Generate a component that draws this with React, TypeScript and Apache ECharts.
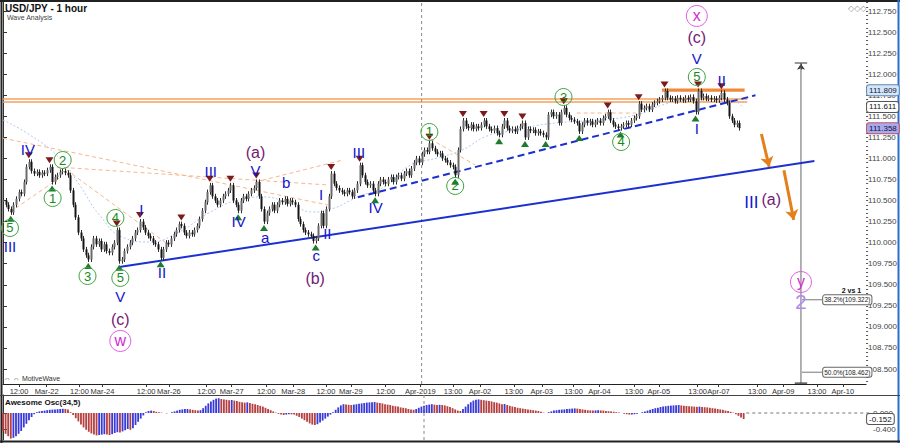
import React, { useEffect, useRef } from 'react';
import * as echarts from 'echarts';

// ---------- DATA ----------
const closes = [
  110.50,110.45,110.40,110.36,110.45,110.52,110.60,110.58,110.72,110.90,
  110.96,110.85,110.82,110.84,110.80,110.83,110.82,110.86,110.90,110.72,
  110.78,110.80,110.84,110.85,110.83,110.80,110.62,110.45,110.30,110.12,
  110.05,109.92,109.85,109.80,109.95,110.05,109.98,110.02,109.92,109.98,
  109.90,109.88,109.95,110.00,110.15,109.78,109.80,109.90,109.95,110.00,
  110.05,110.12,110.15,110.25,110.18,110.12,110.08,110.05,110.00,109.98,
  109.92,109.82,109.92,110.00,109.98,110.05,110.10,110.15,110.22,110.20,
  110.12,110.08,110.12,110.10,110.15,110.20,110.28,110.38,110.48,110.60,
  110.68,110.55,110.50,110.45,110.50,110.55,110.58,110.62,110.68,110.50,
  110.45,110.38,110.50,110.55,110.52,110.58,110.62,110.65,110.72,110.55,
  110.40,110.25,110.35,110.40,110.45,110.38,110.45,110.50,110.48,110.52,
  110.46,110.50,110.48,110.45,110.28,110.22,110.15,110.12,110.10,110.08,
  110.02,110.05,110.20,110.35,110.20,110.40,110.55,110.82,110.70,110.65,
  110.62,110.60,110.58,110.62,110.60,110.55,110.62,110.70,110.92,110.80,
  110.72,110.68,110.70,110.62,110.58,110.70,110.75,110.72,110.70,110.75,
  110.78,110.72,110.78,110.80,110.76,110.82,110.85,110.80,110.88,110.95,
  111.00,110.95,111.05,111.10,111.08,111.18,111.12,111.08,111.05,111.06,
  111.00,110.98,110.95,110.92,110.90,110.80,111.10,111.35,111.45,111.38,
  111.36,111.40,111.35,111.38,111.36,111.40,111.45,111.38,111.35,111.33,
  111.36,111.30,111.28,111.38,111.45,111.36,111.33,111.35,111.32,111.36,
  111.38,111.42,111.25,111.35,111.33,111.34,111.30,111.32,111.30,111.28,
  111.25,111.52,111.55,111.50,111.52,111.42,111.55,111.60,111.52,111.48,
  111.46,111.44,111.42,111.32,111.40,111.45,111.42,111.44,111.40,111.43,
  111.45,111.42,111.48,111.50,111.55,111.45,111.40,111.38,111.36,111.38,
  111.40,111.42,111.40,111.45,111.48,111.50,111.65,111.58,111.60,111.62,
  111.58,111.64,111.66,111.68,111.70,111.72,111.80,111.72,111.70,111.71,
  111.68,111.72,111.70,111.69,111.72,111.70,111.73,111.68,111.55,111.80,
  111.72,111.74,111.71,111.72,111.70,111.71,111.69,111.72,111.78,111.70,
  111.66,111.50,111.45,111.40,111.42,111.36
];

const aoValues = [
  -0.45,-0.52,-0.58,-0.64,-0.62,-0.58,-0.52,-0.45,-0.36,-0.27,
  -0.18,-0.10,-0.03,0.02,0.04,0.05,0.06,0.07,0.08,0.085,
  0.09,0.095,0.10,0.105,0.10,0.09,0.02,-0.05,-0.13,-0.21,
  -0.29,-0.36,-0.42,-0.47,-0.51,-0.54,-0.56,-0.55,-0.54,-0.53,
  -0.54,-0.55,-0.53,-0.50,-0.48,-0.49,-0.46,-0.43,-0.40,-0.42,
  -0.38,-0.30,-0.22,-0.14,-0.06,0.02,0.05,0.06,0.05,0.03,
  0.02,0.01,0.00,-0.01,0.00,0.02,0.04,0.06,0.08,0.09,
  0.10,0.10,0.09,0.08,0.07,0.06,0.07,0.12,0.18,0.24,
  0.29,0.33,0.36,0.37,0.35,0.34,0.33,0.32,0.325,0.31,
  0.30,0.28,0.27,0.26,0.265,0.25,0.23,0.22,0.20,0.18,
  0.16,0.13,0.10,0.07,0.04,0.01,-0.02,-0.04,-0.05,-0.04,
  -0.03,-0.035,-0.04,-0.07,-0.10,-0.14,-0.18,-0.22,-0.26,-0.29,
  -0.30,-0.28,-0.24,-0.19,-0.14,-0.09,-0.04,0.02,0.08,0.14,
  0.19,0.22,0.21,0.205,0.20,0.21,0.22,0.23,0.24,0.25,
  0.26,0.265,0.27,0.275,0.26,0.25,0.24,0.22,0.21,0.20,
  0.18,0.17,0.16,0.14,0.13,0.12,0.10,0.09,0.08,0.10,
  0.13,0.16,0.18,0.20,0.21,0.22,0.21,0.20,0.205,0.20,
  0.19,0.17,0.15,0.12,0.09,0.06,0.05,0.10,0.16,0.22,
  0.27,0.31,0.33,0.34,0.33,0.32,0.31,0.30,0.29,0.27,
  0.26,0.24,0.22,0.225,0.20,0.18,0.16,0.15,0.13,0.12,
  0.11,0.10,0.09,0.08,0.07,0.06,0.05,0.03,0.01,0.00,
  0.02,0.04,0.06,0.07,0.08,0.085,0.09,0.10,0.105,0.11,
  0.115,0.11,0.10,0.09,0.08,0.07,0.065,0.06,0.065,0.07,
  0.065,0.06,0.05,0.045,0.04,0.03,0.02,0.01,0.00,-0.02,
  -0.03,-0.04,-0.035,-0.03,-0.02,0.00,0.02,0.04,0.06,0.08,
  0.10,0.12,0.13,0.15,0.16,0.17,0.18,0.185,0.19,0.195,
  0.20,0.19,0.18,0.175,0.17,0.165,0.16,0.155,0.16,0.15,
  0.145,0.14,0.13,0.12,0.11,0.10,0.09,0.08,0.06,0.05,
  0.03,0.01,-0.03,-0.07,-0.11,-0.15
];

const xTickPos = [6.2,16.9,29.6,38.5,55.4,64.2,78.8,88.5,101.9,112.3,125,134.6,148.1,161.5,174.2,184.6,197.7,208.5,220.8,230.8,244.2,253.8,268.8,276.9,291.9,301.9,315,325];
const xTickLabels = ['12:00','Mar-22','12:00','Mar-24','12:00','Mar-26','12:00','Mar-27','12:00','Mar-28','12:00','Mar-29','12:00','Apr-2019','13:00','Apr-02','13:00','Apr-03','13:00','Apr-04','13:00','Apr-05','13:00','Apr-07','13:00','Apr-09','13:00','Apr-10'];
const priceTicks = [108.5,108.75,109,109.25,109.5,109.75,110,110.25,110.5,110.75,111,111.25,111.5,111.75,112,112.25,112.5,112.75];
const aoTicks = [0, -0.4];

const downIdx = [10,18,44,53,69,80,88,98,127,138,165,178,186,194,201,217,234,246,256,269,278];
const upIdx = [3,19,33,45,61,91,101,121,144,175,192,202,210,223,239,268];

// [text, barIndex, price, kind]
const waveLabels: [string, number, number, string][] = [
  ['5', 2.7, 110.174, 'g'], ['III', 2.7, 109.949, 'b'], ['IV', 9.6, 111.100, 'b'],
  ['2', 23.1, 110.981, 'g'], ['1', 19.2, 110.530, 'g'], ['3', 32.7, 109.604, 'g'],
  ['4', 43.5, 110.293, 'g'], ['5', 45.4, 109.581, 'g'], ['V', 45.4, 109.355, 'b'],
  ['(c)', 45.4, 109.082, 'p'], ['w', 45.4, 108.833, 'm'], ['I', 53.5, 110.388, 'b'],
  ['II', 61.5, 109.640, 'b'], ['III', 80.4, 110.839, 'b'], ['IV', 91.2, 110.257, 'b'],
  ['(a)', 97.7, 111.076, 'p'], ['V', 97.7, 110.851, 'b'], ['a', 101.5, 110.056, 'b'],
  ['b', 109.6, 110.720, 'b'], ['c', 121.2, 109.842, 'b'], ['(b)', 120.8, 109.569, 'p'],
  ['I', 123.1, 110.566, 'b'], ['II', 125.5, 110.103, 'b'], ['III', 137.7, 111.076, 'b'],
  ['IV', 144.2, 110.423, 'b'], ['1', 165, 111.314, 'g'], ['2', 175, 110.673, 'g'],
  ['3', 216.9, 111.729, 'g'], ['4', 239.2, 111.195, 'g'], ['5', 268.5, 111.967, 'g'],
  ['V', 268.5, 112.192, 'b'], ['(c)', 268.5, 112.430, 'p'], ['x', 268.5, 112.691, 'm'],
  ['II', 278.1, 111.931, 'b'], ['I', 268.5, 111.361, 'b'], ['III', 289.6, 110.471, 'B'],
  ['(a)', 297.3, 110.507, 'p'], ['y', 308.8, 109.533, 'm'], ['2', 308.8, 109.296, 'l']
];

const maLine = [
  [0,111.456],[10.4,111.278],[21.9,111.005],[29.6,110.685],[37.3,110.329],[46.9,110.056],
  [56.5,110.008],[68.1,110.127],[79.6,110.352],[91.2,110.507],[100.8,110.542],[110.4,110.471],
  [120,110.364],[125.8,110.388],[137.3,110.542],[148.8,110.685],[157.7,110.922],[168.1,111.005],
  [177.7,111.100],[187.3,111.266],[198.8,111.338],[210.4,111.409],[229.6,111.456],[245,111.516],
  [256.5,111.646],[268.1,111.694],[281.5,111.694],[286.5,111.599]
];
const peachLines = [
  [[0,111.24],[125.8,110.447]],
  [[24.6,110.863],[64.2,109.972]],
  [[20.8,110.898],[125.8,110.685]],
  [[2.7,110.364],[21.9,110.768]],
  [[97.7,110.720],[131.5,110.981]],
  [[165.4,111.231],[182.7,110.922]],
  [[222,111.539],[245,111.539]]
];
const resistancePrices = [111.706, 111.670];
const resistanceRange = [0, 288];
const topBand = [[255, 111.81], [287, 111.81]];
const supportLine = [[45, 109.71], [314, 110.97]];
const dashedSupport = [[137.3, 110.54], [291.2, 111.75]];
const arrows = [
  [[293.5, 111.29], [296.5, 110.90]],
  [[302.2, 110.86], [306, 110.27]]
];
const dividerBar = 162;
const measureBar = 308.8;
const measureTop = 112.133;
const fibLevels: [string, number][] = [['38.2%', 109.322], ['50.0%', 108.462]];
const fibRange = [309.2, 317];
const axisMarks: [number, string, string, string][] = [
  [111.809, '#d4e6f7', '#5f87b3', '#102040'],
  [111.611, '#ffffff', '#555555', '#111111'],
  [111.358, '#a9a9ee', '#c0506a', '#111133']
];
const aoLast = -0.152;

const Y_MIN = 108.322, Y_MAX = 112.857, X_MAX = 334;
const AO_MIN = -0.675, AO_MAX = 0.45;
const WICK = 0.03;
const FONT = 'Liberation Sans, Arial, sans-serif';

const kindStyle: Record<string, any> = {
  g: { color: '#178a17', size: 13, circle: 17, border: '#3ea33e' },
  b: { color: '#1414cc', size: 15 },
  B: { color: '#1414cc', size: 17 },
  p: { color: '#741a74', size: 16 },
  m: { color: '#d22cd2', size: 16, circle: 21, border: '#e060e0' },
  l: { color: '#b08af0', size: 21 }
};

export default function App() {
  const ref = useRef<HTMLDivElement>(null);
  useEffect(() => {
    const chart = echarts.init(ref.current!, null, { renderer: 'svg' });
    const ohlc = closes.map((c, i) => {
      const o = i === 0 ? c : closes[i - 1];
      return [i, o, c, Math.min(o, c) - WICK, Math.max(o, c) + WICK];
    });
    const minorTicks: number[] = [];
    for (let v = 108.35; v < 112.86; v += 0.05) minorTicks.push(+v.toFixed(2));

    const seg = (data: number[][], color: string, width: number, type: any = 'solid', xi = 0, yi = 0, z = 2) => ({
      type: 'line', xAxisIndex: xi, yAxisIndex: yi, data, symbol: 'none', silent: true, z,
      lineStyle: { color, width, type }, animation: false
    });

    const series: any[] = [];
    resistancePrices.forEach(p => series.push(seg([[resistanceRange[0], p], [resistanceRange[1], p]], '#f2a260', 1.6)));
    series.push(seg(topBand, '#ef8a3c', 3.2));
    series.push({ ...seg(maLine, '#b4c8f0', 1, [2, 2]), smooth: true });
    peachLines.forEach(l => series.push(seg(l, '#f6b690', 1, [4, 3])));
    series.push(seg([[dividerBar, Y_MIN], [dividerBar, Y_MAX]], '#8a8a8a', 1, [3, 3]));
    series.push(seg([[dividerBar, AO_MIN], [dividerBar, AO_MAX]], '#8a8a8a', 1, [3, 3], 1, 1));
    series.push(seg(supportLine, '#1c2fd0', 2, 'solid', 0, 0, 3));
    series.push(seg(dashedSupport, '#1c2fd0', 2, [7, 4], 0, 0, 3));
    series.push(seg([[measureBar, Y_MIN + 0.01], [measureBar, measureTop]], '#666', 1));
    series.push(seg([[measureBar - 2.4, measureTop], [measureBar + 2.4, measureTop]], '#333', 1.2));
    series.push(seg([[measureBar - 2.4, Y_MIN + 0.01], [measureBar + 2.4, Y_MIN + 0.01]], '#333', 1.2));
    series.push({
      type: 'lines', coordinateSystem: 'cartesian2d', xAxisIndex: 0, yAxisIndex: 0, silent: true,
      symbol: ['none', 'arrow'], symbolSize: 6, lineStyle: { color: '#333', width: 1, opacity: 1 },
      data: [{ coords: [[measureBar, measureTop - 0.08], [measureBar, measureTop - 0.01]] }]
    });
    fibLevels.forEach(f => series.push(seg([[fibRange[0], f[1]], [fibRange[1], f[1]]], '#777', 1)));
    series.push({
      type: 'lines', coordinateSystem: 'cartesian2d', xAxisIndex: 0, yAxisIndex: 0, silent: true, z: 4,
      symbol: ['none', 'arrow'], symbolSize: 10, lineStyle: { color: '#e3801c', width: 3, opacity: 1 },
      data: arrows.map(a => ({ coords: a }))
    });
    series.push({
      type: 'custom', xAxisIndex: 0, yAxisIndex: 0, data: ohlc, encode: { x: 0, y: [1, 2, 3, 4] }, z: 5, silent: true,
      renderItem: (params: any, api: any) => {
        const x = api.value(0);
        const pO = api.coord([x, api.value(1)]);
        const pC = api.coord([x, api.value(2)]);
        const pL = api.coord([x, api.value(3)]);
        const pH = api.coord([x, api.value(4)]);
        const cx = Math.round(pO[0]) + 0.5;
        const top = Math.min(pO[1], pC[1]);
        const h = Math.max(1, Math.abs(pO[1] - pC[1]));
        const up = api.value(2) >= api.value(1);
        return {
          type: 'group', children: [
            { type: 'line', shape: { x1: cx, y1: pH[1], x2: cx, y2: pL[1] }, style: { stroke: '#2b2b2b', lineWidth: 1 } },
            { type: 'rect', shape: { x: cx - 1, y: top, width: 2, height: h }, style: { fill: up ? '#6a6a6a' : '#151515' } }
          ]
        };
      }
    });
    series.push({
      type: 'scatter', xAxisIndex: 0, yAxisIndex: 0, silent: true, z: 6,
      symbol: 'triangle', symbolSize: [8, 6], symbolRotate: 180, symbolOffset: [0, -4],
      itemStyle: { color: '#7d1b1b', opacity: 1 },
      data: downIdx.map(i => [i, ohlc[i][4]])
    });
    series.push({
      type: 'scatter', xAxisIndex: 0, yAxisIndex: 0, silent: true, z: 6,
      symbol: 'triangle', symbolSize: [8, 6], symbolOffset: [0, 4],
      itemStyle: { color: '#1e7a2e', opacity: 1 },
      data: upIdx.map(i => [i, ohlc[i][3]])
    });
    series.push({
      type: 'scatter', xAxisIndex: 0, yAxisIndex: 0, silent: true, z: 7,
      itemStyle: { opacity: 1 },
      data: waveLabels.map(([t, i, p, k]) => {
        const s = kindStyle[k];
        return {
          value: [i, p],
          symbol: 'circle',
          symbolSize: s.circle || 1,
          itemStyle: s.circle
            ? { color: 'rgba(255,255,255,0)', borderColor: s.border, borderWidth: 1, opacity: 1 }
            : { color: 'rgba(255,255,255,0)', opacity: 1 },
          label: {
            show: true, position: 'inside', formatter: t, color: s.color, fontSize: s.size, fontFamily: FONT,
            textBorderWidth: 0, opacity: 1
          }
        };
      })
    });
    series.push({
      type: 'bar', xAxisIndex: 1, yAxisIndex: 1, barWidth: 1.8, silent: true,
      data: aoValues.map((v, i) => ({
        value: [i, v],
        itemStyle: { color: i > 0 && v >= aoValues[i - 1] ? '#3a3ad8' : '#b5403f' }
      }))
    });
    series.push(seg([[aoValues.length, 0], [X_MAX, 0]], '#777', 1, [3, 3], 1, 1));

    const option: any = {
      animation: false,
      backgroundColor: '#ffffff',
      grid: [
        { left: 3, right: 29, top: 2, height: 382 },
        { left: 3, right: 29, top: 395, height: 45 }
      ],
      xAxis: [
        {
          type: 'value', gridIndex: 0, min: 0, max: X_MAX,
          axisLine: { show: true, lineStyle: { color: '#222', width: 1 } },
          axisTick: { show: true, customValues: xTickPos, length: 3, lineStyle: { color: '#333' } },
          axisLabel: {
            customValues: xTickPos, fontSize: 7.5, color: '#333', margin: 3, fontFamily: FONT,
            formatter: (v: number) => { const k = xTickPos.findIndex(p => Math.abs(p - v) < 0.01); return k >= 0 ? xTickLabels[k] : ''; }
          },
          splitLine: { show: false }
        },
        {
          type: 'value', gridIndex: 1, min: 0, max: X_MAX,
          axisLine: { show: false }, axisTick: { show: false }, axisLabel: { show: false }, splitLine: { show: false }
        }
      ],
      yAxis: [
        {
          type: 'value', gridIndex: 0, position: 'right', min: Y_MIN, max: Y_MAX,
          axisLine: { show: true, lineStyle: { color: '#333' } },
          axisTick: { show: true, customValues: priceTicks, length: 4, lineStyle: { color: '#333' } },
          axisLabel: { customValues: priceTicks, fontSize: 8, color: '#444', margin: 2, fontFamily: FONT, formatter: (v: number) => v.toFixed(3) },
          splitLine: { show: false }
        },
        {
          type: 'value', gridIndex: 1, position: 'right', min: AO_MIN, max: AO_MAX,
          axisLine: { show: true, lineStyle: { color: '#333' } },
          axisTick: { show: true, customValues: aoTicks, length: 4, lineStyle: { color: '#333' } },
          axisLabel: { customValues: aoTicks, fontSize: 8, color: '#444', margin: 2, fontFamily: FONT, formatter: (v: number) => v.toFixed(3) },
          splitLine: { show: false }
        },
        {
          type: 'value', gridIndex: 0, position: 'right', min: Y_MIN, max: Y_MAX,
          axisLine: { show: false },
          axisTick: { show: true, customValues: minorTicks, length: 2, lineStyle: { color: '#555' } },
          axisLabel: { show: false }, splitLine: { show: false }
        }
      ],
      series
    };
    chart.setOption(option);

    const xPix = (v: number) => chart.convertToPixel({ xAxisIndex: 0 }, v) as number;
    const yPix = (v: number) => chart.convertToPixel({ yAxisIndex: 0 }, v) as number;
    const aoPix = (v: number) => chart.convertToPixel({ yAxisIndex: 1 }, v) as number;
    const axisX = xPix(X_MAX) + 1;

    const graphic: any[] = [
      { type: 'text', left: 5, top: 3, style: { text: 'USD/JPY - 1 hour', font: `bold 10px ${FONT}`, fill: '#111' } },
      { type: 'text', left: 7, top: 14, style: { text: 'Wave Analysis', font: `7px ${FONT}`, fill: '#444' } },
      { type: 'text', left: 4, top: 375, style: { text: '⇔ ⇔ MotiveWave', font: `7px ${FONT}`, fill: '#333' } },
      { type: 'text', left: 5, top: 398, style: { text: 'Awesome Osc(34,5)', font: `bold 8px ${FONT}`, fill: '#111' } },
      { type: 'text', left: 848, top: 4, style: { text: '◇◇◇', font: `8px DejaVu Sans`, fill: '#999' } },
      { type: 'line', shape: { x1: 0, y1: 1, x2: 900, y2: 1 }, style: { stroke: '#222', lineWidth: 2 } },
      { type: 'line', shape: { x1: 1.5, y1: 0, x2: 1.5, y2: 443 }, style: { stroke: '#222', lineWidth: 2 } },
      { type: 'line', shape: { x1: 898.5, y1: 0, x2: 898.5, y2: 443 }, style: { stroke: '#2a6fd0', lineWidth: 2 } },
      { type: 'line', shape: { x1: 0, y1: 395.5, x2: 900, y2: 395.5 }, style: { stroke: '#444', lineWidth: 1 } },
      { type: 'line', shape: { x1: 0, y1: 441.5, x2: 900, y2: 441.5 }, style: { stroke: '#222', lineWidth: 2 } }
    ];
    axisMarks.forEach(([v, bg, bd, fg]) => {
      graphic.push({
        type: 'text', x: axisX, y: yPix(v), z: 100,
        style: { text: v.toFixed(3), font: `8px ${FONT}`, fill: fg, backgroundColor: bg, borderColor: bd, borderWidth: 1, borderRadius: 2, padding: [1, 2], verticalAlign: 'middle' }
      });
    });
    graphic.push({
      type: 'text', x: axisX, y: aoPix(aoLast), z: 100,
      style: { text: aoLast.toFixed(3), font: `8px ${FONT}`, fill: '#111', backgroundColor: '#fff', borderColor: '#555', borderWidth: 1, borderRadius: 2, padding: [1, 2], verticalAlign: 'middle' }
    });
    const fx = xPix(fibRange[1]) + 1;
    fibLevels.forEach(([pct, p]) => {
      graphic.push({
        type: 'text', x: fx, y: yPix(p), z: 100,
        style: { text: `${pct}(${p.toFixed(3)})`, font: `6.5px ${FONT}`, fill: '#222', backgroundColor: '#fff', borderColor: '#666', borderWidth: 1, borderRadius: 2, padding: [1, 1], verticalAlign: 'middle' }
      });
    });
    graphic.push({
      type: 'text', x: fx + 38, y: yPix(fibLevels[0][1]) - 9, z: 100,
      style: { text: '2 vs 1', font: `bold 7px ${FONT}`, fill: '#111', align: 'right', verticalAlign: 'middle' }
    });
    chart.setOption({ graphic });

    return () => chart.dispose();
  }, []);
  return <div ref={ref} style={{ position: 'fixed', left: 0, top: 0, width: 900, height: 443, background: '#fff' }} />;
}
